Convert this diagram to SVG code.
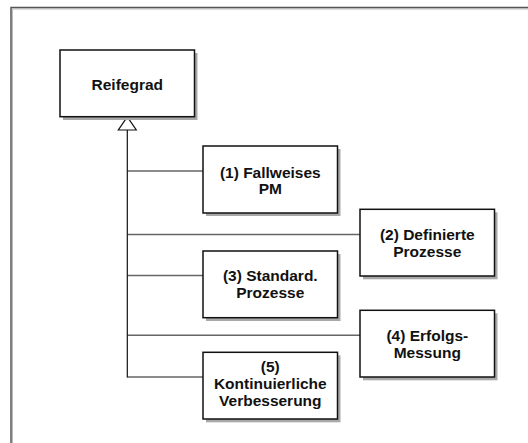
<svg xmlns="http://www.w3.org/2000/svg" width="528" height="443" viewBox="0 0 528 443">
  <style>
    .frame { fill: none; stroke: #555; stroke-width: 1.5; }
    .frame-hi { fill: none; stroke: #bbb; stroke-width: 1; }
    .shadow { fill: #a8a8a8; stroke: none; }
    .box { fill: #fff; stroke: #111; stroke-width: 1.5; }
    .label { font-family: "Liberation Sans", Arial, sans-serif; font-weight: bold; font-size: 15.5px; fill: #111; text-anchor: middle; }
    .branch { stroke: #666; stroke-width: 1.5; fill: none; }
    .trunk { stroke: #111; stroke-width: 1.2; fill: none; }
    .head { fill: #fff; stroke: #111; stroke-width: 1.2; }
  </style>

  <rect width="528" height="443" fill="#fff"/>

  <!-- outer frame (top and left edges) -->
  <path class="frame-hi" d="M12.5,443 V9 H528"/>
  <path class="frame" d="M11,443 V7.5 H528"/>

  <!-- connectors -->
  <g id="connectors">
    <line class="branch" x1="127.3" y1="171" x2="203" y2="171"/>
    <line class="branch" x1="127.3" y1="234.5" x2="360" y2="234.5"/>
    <line class="branch" x1="127.3" y1="275.5" x2="203" y2="275.5"/>
    <line class="branch" x1="127.3" y1="335.3" x2="360" y2="335.3"/>
    <line class="branch" x1="127.3" y1="377" x2="203" y2="377"/>
    <line class="trunk" x1="127.3" y1="130" x2="127.3" y2="377.5"/>
    <polygon class="head" points="127.3,116.8 118.3,130 136.3,130"/>
  </g>

  <g id="reifegrad">
    <rect class="shadow" x="63" y="53" width="134.5" height="67"/>
    <rect class="box" x="60" y="50" width="134.5" height="66.7"/>
    <text class="label" x="127.3" y="89.5">Reifegrad</text>
  </g>

  <g id="stufe1">
    <rect class="shadow" x="206" y="149" width="134.5" height="67"/>
    <rect class="box" x="203" y="146" width="134.5" height="67"/>
    <text class="label" x="270.3" y="177.5">(1) Fallweises</text>
    <text class="label" x="270.3" y="193.8">PM</text>
  </g>

  <g id="stufe2">
    <rect class="shadow" x="363" y="212.3" width="134.5" height="67"/>
    <rect class="box" x="360" y="209.3" width="134.5" height="66.7"/>
    <text class="label" x="427.3" y="240.3">(2) Definierte</text>
    <text class="label" x="427.3" y="256.8">Prozesse</text>
  </g>

  <g id="stufe3">
    <rect class="shadow" x="206" y="254" width="134.5" height="67"/>
    <rect class="box" x="203" y="251" width="134.5" height="66.7"/>
    <text class="label" x="270.3" y="281">(3) Standard.</text>
    <text class="label" x="270.3" y="297.5">Prozesse</text>
  </g>

  <g id="stufe4">
    <rect class="shadow" x="363" y="313.3" width="134.5" height="67"/>
    <rect class="box" x="360" y="310.3" width="134.5" height="66.7"/>
    <text class="label" x="427.3" y="341">(4) Erfolgs-</text>
    <text class="label" x="427.3" y="357.5">Messung</text>
  </g>

  <g id="stufe5">
    <rect class="shadow" x="206" y="355.3" width="134.5" height="67"/>
    <rect class="box" x="203" y="352.3" width="134.5" height="66.7"/>
    <text class="label" x="270.3" y="372.3">(5)</text>
    <text class="label" x="270.3" y="389">Kontinuierliche</text>
    <text class="label" x="270.3" y="405.7">Verbesserung</text>
  </g>
</svg>
